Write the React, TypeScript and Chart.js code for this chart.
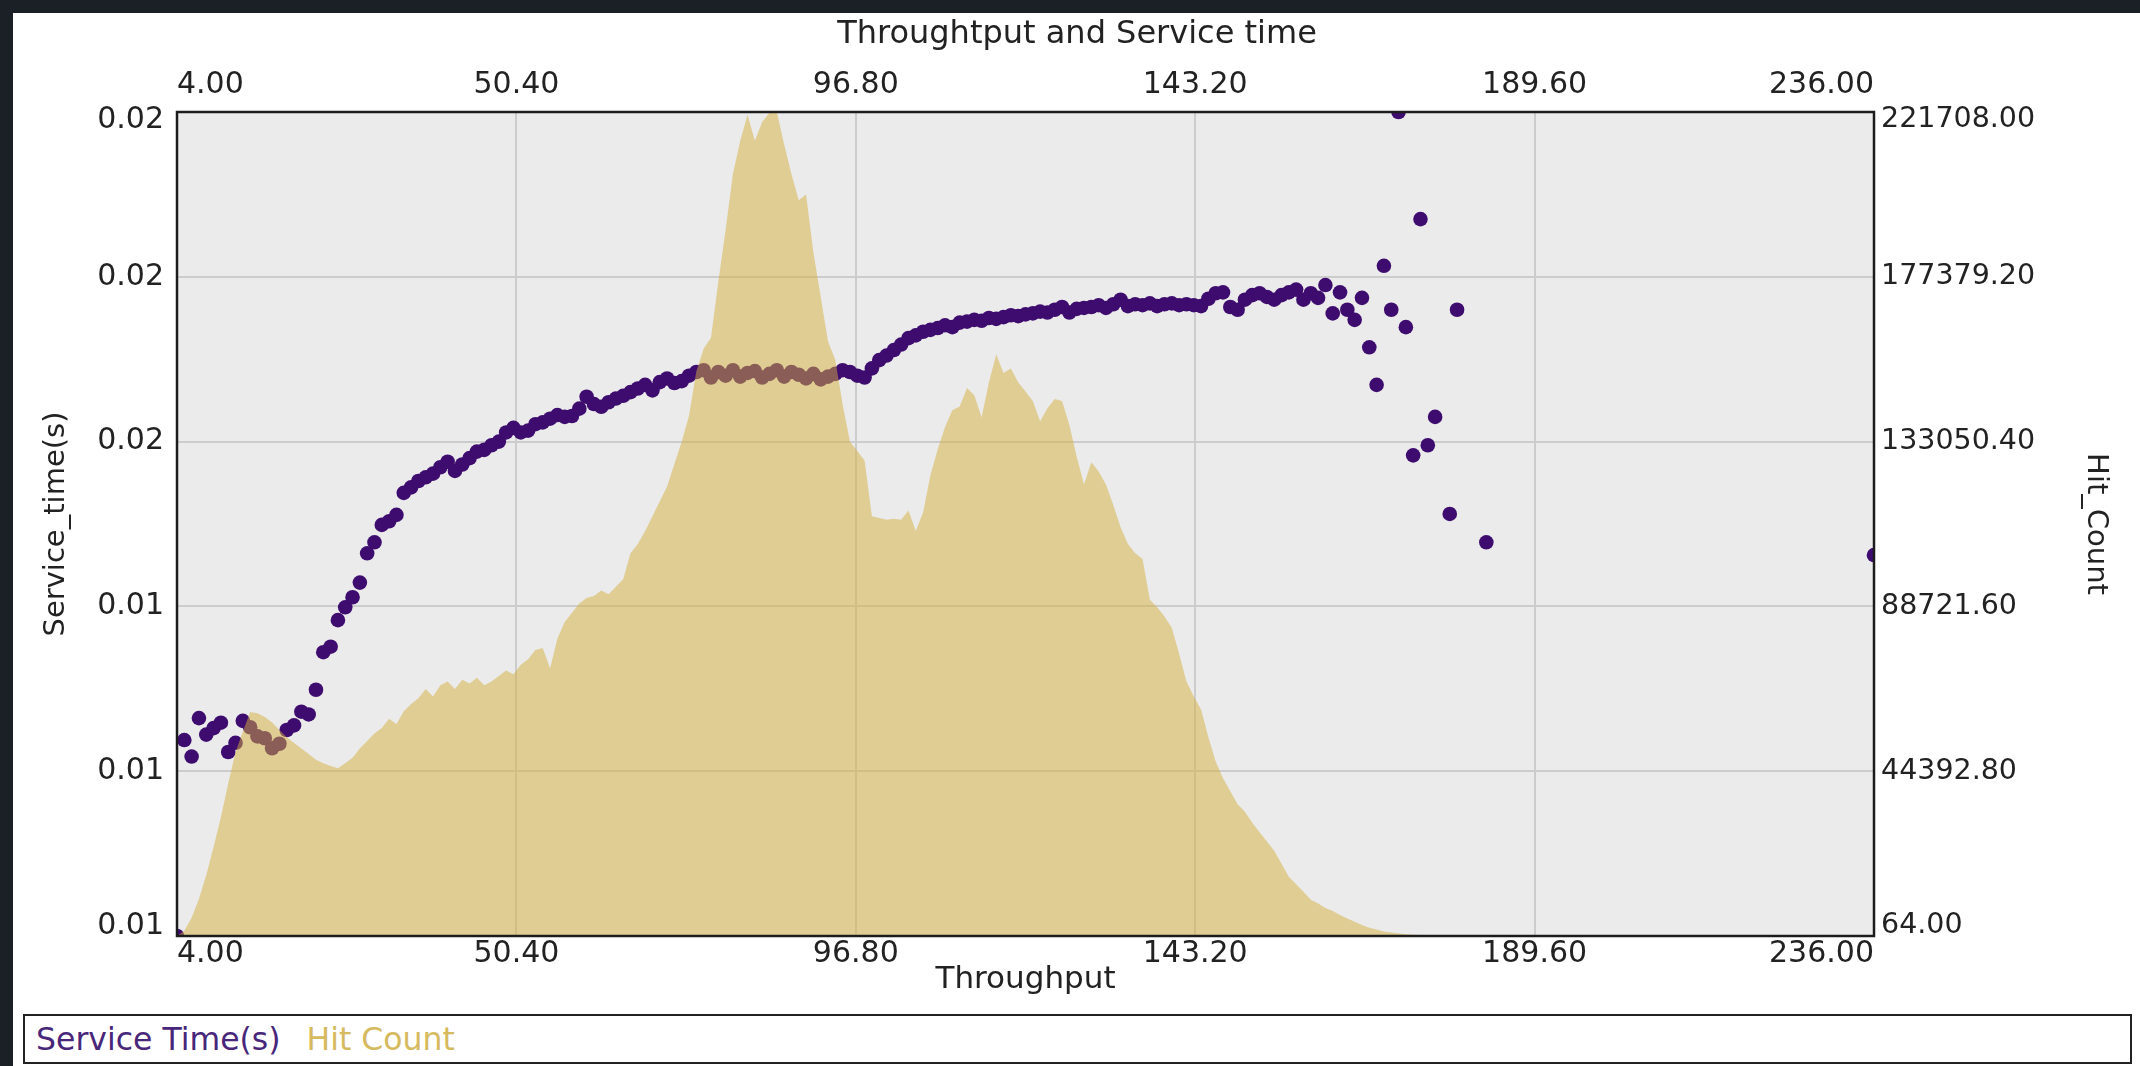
import React, { useEffect, useRef } from "react";
import { Chart, registerables } from "chart.js";

Chart.register(...registerables);

// ---------- data ----------
const chartTitle = "Throughtput and Service time";
const xAxisTitle = "Throughput";
const leftAxisTitle = "Service_time(s)";
const rightAxisTitle = "Hit_Count";
const serviceLabel = "Service Time(s)";
const hitLabel = "Hit Count";

const xTicks = [4, 50.4, 96.8, 143.2, 189.6, 236];
const serviceTicks = [0.011, 0.0128, 0.0146, 0.0164, 0.0182, 0.02];
const hitTicks = [64, 44392.8, 88721.6, 133050.4, 177379.2, 221708];

const serviceThroughput = [
  4, 5, 6, 7, 8, 9, 10, 11, 12, 13, 14, 15, 16, 17, 18, 19, 20, 21, 22, 23,
  24, 25, 26, 27, 28, 29, 30, 31, 32, 33, 34, 35, 36, 37, 38, 39, 40, 41, 42, 43,
  44, 45, 46, 47, 48, 49, 50, 51, 52, 53, 54, 55, 56, 57, 58, 59, 60, 61, 62, 63,
  64, 65, 66, 67, 68, 69, 70, 71, 72, 73, 74, 75, 76, 77, 78, 79, 80, 81, 82, 83,
  84, 85, 86, 87, 88, 89, 90, 91, 92, 93, 94, 95, 96, 97, 98, 99, 100, 101, 102, 103,
  104, 105, 106, 107, 108, 109, 110, 111, 112, 113, 114, 115, 116, 117, 118, 119, 120, 121, 122, 123,
  124, 125, 126, 127, 128, 129, 130, 131, 132, 133, 134, 135, 136, 137, 138, 139, 140, 141, 142, 143,
  144, 145, 146, 147, 148, 149, 150, 151, 152, 153, 154, 155, 156, 157, 158, 159, 160, 161, 162, 163,
  164, 165, 166, 167, 168, 169, 170, 171, 172, 173, 174, 175, 176, 178, 179, 183, 236,
];

const serviceTime = [
  0.011, 0.01314, 0.01296, 0.01338, 0.0132, 0.01327, 0.01333, 0.01301, 0.01311, 0.01335,
  0.01328, 0.01318, 0.01316, 0.01305, 0.0131, 0.01325, 0.0133, 0.01345, 0.01342, 0.01369,
  0.0141, 0.01416, 0.01445, 0.01459, 0.0147, 0.01486, 0.01518, 0.0153, 0.01549, 0.01553,
  0.0156, 0.01584, 0.0159, 0.01597, 0.01601, 0.01605, 0.01612, 0.01618, 0.01608, 0.01615,
  0.01622, 0.01629, 0.01631, 0.01636, 0.0164, 0.0165, 0.01655, 0.0165, 0.01652, 0.01659,
  0.01661, 0.01665, 0.01669, 0.01667, 0.01668, 0.01676, 0.01689, 0.01681, 0.01678, 0.01683,
  0.01687, 0.0169, 0.01694, 0.01698, 0.01702, 0.01696, 0.01705, 0.01709, 0.01704, 0.01706,
  0.01712, 0.01716, 0.01718, 0.0171, 0.01716, 0.01712, 0.01718, 0.01711, 0.01715, 0.01717,
  0.0171, 0.01714, 0.01718, 0.01711, 0.01716, 0.01713, 0.01709, 0.01714, 0.01708, 0.01711,
  0.01714, 0.01718, 0.01716, 0.01712, 0.0171, 0.0172, 0.01729, 0.01734, 0.0174, 0.01746,
  0.01753, 0.01756, 0.0176, 0.01762, 0.01764, 0.01767, 0.01765, 0.0177, 0.01771, 0.01773,
  0.01772, 0.01775, 0.01774, 0.01776, 0.01778, 0.01777, 0.01779, 0.0178, 0.01782, 0.01781,
  0.01784, 0.01787, 0.01781, 0.01785, 0.01786, 0.01787, 0.01789, 0.01786, 0.0179, 0.01795,
  0.01788, 0.0179, 0.01789, 0.01791, 0.01788, 0.0179, 0.01791, 0.01789, 0.0179, 0.01789,
  0.01788, 0.01796, 0.01802, 0.01803, 0.01787, 0.01784, 0.01795, 0.018, 0.01802, 0.01798,
  0.01795, 0.018, 0.01803, 0.01806, 0.01795, 0.01802, 0.01797, 0.01811, 0.0178, 0.01803,
  0.01784, 0.01773, 0.01797, 0.01743, 0.01702, 0.01832, 0.01784, 0.02, 0.01765, 0.01625,
  0.01883, 0.01636, 0.01667, 0.01561, 0.01784, 0.0153, 0.01516,
];

const hitThroughput = [
  4, 5, 6, 7, 8, 9, 10, 11, 12, 13, 14, 15, 16, 17, 18, 19, 20, 21, 22, 23,
  24, 25, 26, 27, 28, 29, 30, 31, 32, 33, 34, 35, 36, 37, 38, 39, 40, 41, 42, 43,
  44, 45, 46, 47, 48, 49, 50, 51, 52, 53, 54, 55, 56, 57, 58, 59, 60, 61, 62, 63,
  64, 65, 66, 67, 68, 69, 70, 71, 72, 73, 74, 75, 76, 77, 78, 79, 80, 81, 82, 83,
  84, 85, 86, 87, 88, 89, 90, 91, 92, 93, 94, 95, 96, 97, 98, 99, 100, 101, 102, 103,
  104, 105, 106, 107, 108, 109, 110, 111, 112, 113, 114, 115, 116, 117, 118, 119, 120, 121, 122, 123,
  124, 125, 126, 127, 128, 129, 130, 131, 132, 133, 134, 135, 136, 137, 138, 139, 140, 141, 142, 143,
  144, 145, 146, 147, 148, 149, 150, 151, 152, 153, 154, 155, 156, 157, 158, 159, 160, 161, 162, 163,
  164, 165, 166, 167, 168, 169, 170, 171, 172, 173, 174, 175, 176, 177, 178,
];

const hitCount = [
  64, 1500, 5000, 10000, 16500, 24000, 32000, 41000, 49500, 55000,
  60300, 60000, 59000, 57500, 55500, 53500, 52000, 50500, 49000, 47500,
  46500, 45800, 45200, 46500, 48000, 50500, 52500, 54500, 56000, 58500,
  57000, 60500, 62500, 64000, 66500, 64500, 67500, 68500, 66500, 69000,
  68000, 69500, 67500, 68500, 70000, 71500, 70500, 73000, 74500, 77000,
  77500, 72000, 80000, 84500, 87000, 89500, 91000, 91500, 93000, 92000,
  94000, 96000, 103000, 105500, 109000, 113000, 117000, 121000, 127000, 133000,
  140000, 152000, 158000, 161000, 176000, 190000, 205000, 214000, 221000, 214000,
  219000, 221500, 221700, 213000, 205000, 198000, 199500, 184000, 172000, 160000,
  155000, 143000, 133000, 130500, 128000, 113000, 112500, 112000, 112300, 112000,
  114500, 109000, 114000, 124000, 131000, 137000, 141500, 142500, 147500, 145500,
  139500, 149000, 156500, 151500, 152700, 149000, 146500, 144000, 138500, 142000,
  144500, 144000, 137500, 129000, 121500, 127500, 125000, 121500, 116000, 110000,
  105500, 103000, 101500, 90500, 88500, 86000, 83000, 76000, 68500, 64500,
  61000, 53500, 47000, 42500, 39000, 35500, 33500, 30500, 28000, 25500,
  23000, 19500, 16000, 14000, 12000, 9800, 8800, 7600, 6800, 5700,
  4800, 3900, 3000, 2300, 1800, 1300, 1000, 750, 550, 400,
  300, 200, 150, 100, 64,
];

// ---------- styles ----------
const FONT = "'DejaVu Sans', 'Liberation Sans', sans-serif";
const TEXT = "#222222";
const PURPLE = "rgb(62,12,110)";
const PURPLE_TEXT = "rgb(72,38,122)";
const GOLD_FILL = "rgba(213,175,62,0.5)";
const GOLD_TEXT = "rgb(214,186,96)";
const GRID = "rgb(204,204,204)";

const framePlugin = {
  id: "frame",
  beforeDraw(chart: any) {
    const { ctx, chartArea: a } = chart;
    ctx.save();
    ctx.fillStyle = "#ebebeb";
    ctx.fillRect(a.left, a.top, a.right - a.left, a.bottom - a.top);
    ctx.restore();
    // nudge edge labels of the vertical axes inward, like the reference
    ["y", "y2"].forEach((id) => {
      const s = chart.scales[id];
      if (!s || typeof s.getLabelItems !== "function") return;
      const items = s.getLabelItems();
      if (!items || !items.length || items._nudged) return;
      items[0].options.translation[1] -= 10;
      items[items.length - 1].options.translation[1] += 8;
      items._nudged = true;
    });
  },
  afterDatasetsDraw(chart: any) {
    const { ctx, chartArea: a } = chart;
    ctx.save();
    ctx.strokeStyle = "#1c1c1c";
    ctx.lineWidth = 2.5;
    ctx.strokeRect(a.left, a.top, a.right - a.left, a.bottom - a.top);
    ctx.restore();
  },
};

const fmt2 = (v: any) => Number(v).toFixed(2);

export default function App() {
  const ref = useRef<HTMLCanvasElement | null>(null);

  useEffect(() => {
    if (!ref.current) return;
    Chart.defaults.font.family = FONT;
    Chart.defaults.color = TEXT;

    const serviceData = serviceThroughput.map((x, i) => ({ x, y: serviceTime[i] }));
    const hitData = hitThroughput.map((x, i) => ({ x, y: hitCount[i] }));

    const chart = new Chart(ref.current, {
      type: "scatter",
      data: {
        datasets: [
          {
            type: "line",
            label: hitLabel,
            data: hitData,
            xAxisID: "x",
            yAxisID: "y2",
            fill: "start",
            backgroundColor: GOLD_FILL,
            borderColor: "rgba(0,0,0,0)",
            borderWidth: 0,
            pointRadius: 0,
            tension: 0,
            order: 0,
            clip: 0,
          } as any,
          {
            type: "scatter",
            label: serviceLabel,
            data: serviceData,
            xAxisID: "x",
            yAxisID: "y",
            backgroundColor: PURPLE,
            pointBackgroundColor: PURPLE,
            borderWidth: 0,
            pointBorderWidth: 0,
            pointRadius: 7.3,
            pointHoverRadius: 7.3,
            order: 1,
            clip: 0,
          } as any,
        ],
      },
      options: {
        animation: false,
        responsive: false,
        devicePixelRatio: 1,
        events: [],
        layout: { padding: { left: 14, right: 0, top: 0, bottom: 0 } },
        plugins: {
          legend: { display: false },
          tooltip: { enabled: false },
          title: {
            display: true,
            text: chartTitle,
            color: TEXT,
            font: { size: 32, weight: "normal" as any, family: FONT, lineHeight: 1.125 },
            padding: { top: 17, bottom: 0 },
          },
        },
        scales: {
          x: {
            type: "linear",
            position: "bottom",
            min: xTicks[0],
            max: xTicks[xTicks.length - 1],
            afterBuildTicks: (s: any) => {
              s.ticks = xTicks.map((v) => ({ value: v }));
            },
            afterFit: (s: any) => {
              s.height = 74;
            },
            ticks: {
              callback: fmt2,
              align: "inner",
              padding: 0,
              maxRotation: 0,
              autoSkip: false,
              color: TEXT,
              font: { size: 30 },
            },
            grid: { color: GRID, lineWidth: 2, drawTicks: false },
            border: { display: false },
            title: {
              display: true,
              text: xAxisTitle,
              color: TEXT,
              font: { size: 31, lineHeight: 1.16 },
              padding: { top: 0, bottom: 12 },
            },
          },
          x2: {
            type: "linear",
            position: "top",
            min: xTicks[0],
            max: xTicks[xTicks.length - 1],
            afterBuildTicks: (s: any) => {
              s.ticks = xTicks.map((v) => ({ value: v }));
            },
            afterFit: (s: any) => {
              s.height = 59;
            },
            ticks: {
              callback: fmt2,
              align: "inner",
              padding: 9,
              maxRotation: 0,
              autoSkip: false,
              color: TEXT,
              font: { size: 30 },
            },
            grid: { display: false, drawTicks: false },
            border: { display: false },
          },
          y: {
            type: "linear",
            position: "left",
            min: serviceTicks[0],
            max: serviceTicks[serviceTicks.length - 1],
            afterBuildTicks: (s: any) => {
              s.ticks = serviceTicks.map((v) => ({ value: v }));
            },
            afterFit: (s: any) => {
              s.width = 163;
            },
            ticks: {
              callback: fmt2,
              padding: 13,
              autoSkip: false,
              color: TEXT,
              font: { size: 30 },
            },
            grid: { color: GRID, lineWidth: 2, drawTicks: false },
            border: { display: false },
            title: {
              display: true,
              text: leftAxisTitle,
              color: TEXT,
              font: { size: 29 },
              padding: { top: 25, bottom: 0 },
            },
          },
          y2: {
            type: "linear",
            position: "right",
            min: hitTicks[0],
            max: hitTicks[hitTicks.length - 1],
            afterBuildTicks: (s: any) => {
              s.ticks = hitTicks.map((v) => ({ value: v }));
            },
            afterFit: (s: any) => {
              s.width = 266;
            },
            ticks: {
              callback: fmt2,
              padding: 7,
              autoSkip: false,
              color: TEXT,
              font: { size: 28.5 },
            },
            grid: { display: false, drawTicks: false },
            border: { display: false },
            title: {
              display: true,
              text: rightAxisTitle,
              color: TEXT,
              font: { size: 29 },
              padding: { top: 27, bottom: 0 },
            },
          },
        },
      } as any,
      plugins: [framePlugin as any],
    });

    return () => {
      chart.destroy();
    };
  }, []);

  return (
    <div
      style={{
        position: "fixed",
        left: 0,
        top: 0,
        width: 2140,
        height: 1066,
        background: "#1a2025",
        overflow: "hidden",
      }}
    >
      <div
        style={{
          position: "absolute",
          left: 13,
          top: 13,
          right: 0,
          bottom: 0,
          background: "#ffffff",
        }}
      />
      <canvas
        ref={ref}
        width={2140}
        height={1010}
        style={{ position: "absolute", left: 0, top: 0, width: 2140, height: 1010 }}
      />
      <div
        style={{
          position: "absolute",
          left: 23,
          top: 1014,
          width: 2109,
          height: 50,
          boxSizing: "border-box",
          border: "2px solid #222",
          background: "#fff",
          display: "flex",
          alignItems: "center",
          paddingLeft: 11,
          fontFamily: FONT,
          fontSize: 31.5,
          whiteSpace: "nowrap",
        }}
      >
        <span style={{ color: PURPLE_TEXT }}>{serviceLabel}</span>
        <span style={{ color: GOLD_TEXT, marginLeft: 26 }}>{hitLabel}</span>
      </div>
    </div>
  );
}
